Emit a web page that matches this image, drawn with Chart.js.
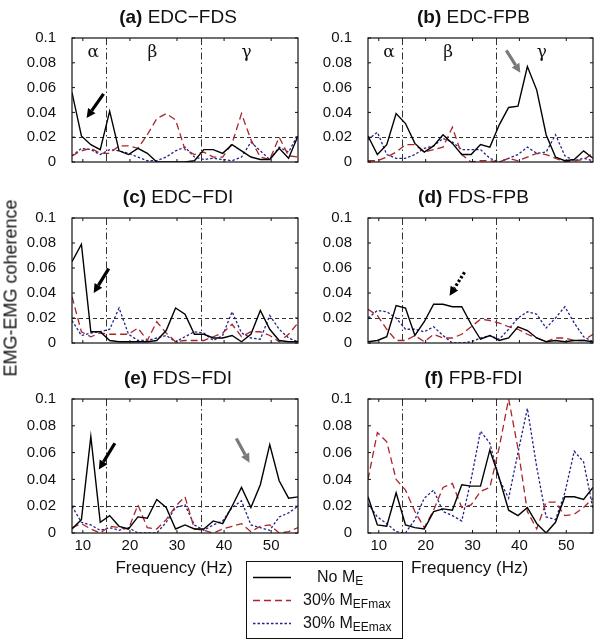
<!DOCTYPE html>
<html>
<head>
<meta charset="utf-8">
<script src="https://cdn.jsdelivr.net/npm/chart.js@4/dist/chart.umd.min.js"></script>
<style>
  body { margin: 0; background: #fff; font-family: "Liberation Sans", Arial, sans-serif; }
  #wrap { position: relative; width: 601px; height: 643px; overflow: hidden; }
  canvas { position: absolute; }
  .ttl { position: absolute; font-size: 19px; white-space: nowrap; transform: translate(-50%, -50%); color: #111; }
  .ttl b { font-weight: bold; }
  .xlab { position: absolute; font-size: 17px; transform: translate(-50%, -50%); white-space: nowrap; color: #111; }
  .ylab { position: absolute; font-size: 18px; white-space: nowrap; color: #111;
          transform: translate(-50%, -50%) rotate(-90deg); }
  #legend { position: absolute; left: 246px; top: 561px; width: 157px; height: 78px;
            border: 1px solid #111; box-sizing: border-box; font-size: 16px; color: #111; }
  #legend .row { position: absolute; left: 0; height: 20px; line-height: 20px; }
  #legend svg { position: absolute; left: 6px; top: 9px; }
  #legend span.t { position: absolute; white-space: nowrap; }
  #legend sub { font-size: 12px; vertical-align: -3px; }
</style>
</head>
<body>
<div id="wrap"></div>
<script>
// frequency bins (Hz)
const freqs = [7.7, 9.7, 11.7, 13.7, 15.7, 17.7, 19.7, 21.7, 23.7, 25.7, 27.7, 29.7, 31.7, 33.7, 35.7, 37.7, 39.7, 41.7, 43.7, 45.7, 47.7, 49.7, 51.7, 53.7, 55.7];
const yTicks = [0, 0.02, 0.04, 0.06, 0.08, 0.1];
const xTicks = [10, 20, 30, 40, 50];
const bandEdges = [15, 35];
const threshold = 0.02;

// (a) EDC-FDS
const edcFdsNo = [0.056, 0.021, 0.014, 0.010, 0.041, 0.009, 0.006, 0.011, 0.007, 0.000, 0.000, 0.000, 0.000, 0.001, 0.010, 0.010, 0.007, 0.014, 0.009, 0.004, 0.002, 0.002, 0.011, 0.003, 0.021];
const edcFdsEF = [0.005, 0.009, 0.011, 0.007, 0.007, 0.013, 0.013, 0.011, 0.022, 0.035, 0.039, 0.034, 0.010, 0.006, 0.008, 0.004, 0.004, 0.015, 0.039, 0.018, 0.004, 0.002, 0.020, 0.005, 0.004];
const edcFdsEE = [0.005, 0.011, 0.010, 0.006, 0.010, 0.009, 0.007, 0.004, 0.001, 0.001, 0.004, 0.009, 0.012, 0.004, 0.002, 0.003, 0.002, 0.001, 0.004, 0.016, 0.009, 0.002, 0.012, 0.008, 0.022];
// (b) EDC-FPB
const edcFpbNo = [0.021, 0.006, 0.014, 0.039, 0.031, 0.015, 0.008, 0.013, 0.022, 0.015, 0.006, 0.006, 0.014, 0.012, 0.030, 0.044, 0.045, 0.077, 0.058, 0.022, 0.004, 0.001, 0.002, 0.009, 0.003];
const edcFpbEF = [0.001, 0.001, 0.004, 0.008, 0.014, 0.014, 0.008, 0.010, 0.012, 0.028, 0.006, 0.000, 0.001, 0.001, 0.000, 0.003, 0.001, 0.004, 0.007, 0.006, 0.003, 0.000, 0.001, 0.002, 0.007];
const edcFpbEE = [0.018, 0.024, 0.006, 0.003, 0.003, 0.006, 0.011, 0.013, 0.019, 0.016, 0.010, 0.010, 0.010, 0.003, 0.000, 0.003, 0.006, 0.012, 0.007, 0.008, 0.022, 0.005, 0.001, 0.003, 0.001];
// (c) EDC-FDI
const edcFdiNo = [0.065, 0.079, 0.009, 0.009, 0.002, 0.001, 0.001, 0.001, 0.001, 0.002, 0.010, 0.028, 0.023, 0.007, 0.007, 0.004, 0.004, 0.006, 0.001, 0.007, 0.026, 0.011, 0.002, 0.001, 0.001];
const edcFdiEF = [0.037, 0.009, 0.005, 0.008, 0.007, 0.007, 0.007, 0.012, 0.002, 0.017, 0.008, 0.001, 0.002, 0.002, 0.002, 0.005, 0.008, 0.015, 0.005, 0.009, 0.009, 0.006, 0.001, 0.007, 0.016];
const edcFdiEE = [0.018, 0.006, 0.008, 0.009, 0.011, 0.028, 0.007, 0.002, 0.002, 0.004, 0.006, 0.001, 0.005, 0.009, 0.008, 0.002, 0.006, 0.025, 0.008, 0.004, 0.003, 0.022, 0.011, 0.004, 0.001];
// (d) FDS-FPB
const fdsFpbNo = [0.001, 0.002, 0.005, 0.030, 0.028, 0.006, 0.017, 0.031, 0.031, 0.029, 0.029, 0.015, 0.003, 0.006, 0.002, 0.004, 0.013, 0.010, 0.004, 0.001, 0.002, 0.001, 0.002, 0.002, 0.001];
const fdsFpbEF = [0.027, 0.022, 0.011, 0.002, 0.002, 0.006, 0.001, 0.007, 0.004, 0.004, 0.007, 0.013, 0.019, 0.018, 0.016, 0.013, 0.011, 0.007, 0.004, 0.001, 0.004, 0.004, 0.002, 0.002, 0.007];
const fdsFpbEE = [0.020, 0.026, 0.025, 0.020, 0.011, 0.011, 0.009, 0.013, 0.006, 0.000, 0.000, 0.001, 0.004, 0.006, 0.003, 0.011, 0.020, 0.025, 0.023, 0.012, 0.020, 0.029, 0.016, 0.005, 0.001];
// (e) FDS-FDI
const fdsFdiNo = [0.003, 0.010, 0.072, 0.008, 0.013, 0.005, 0.003, 0.012, 0.011, 0.025, 0.019, 0.003, 0.006, 0.003, 0.003, 0.009, 0.007, 0.020, 0.034, 0.019, 0.036, 0.066, 0.039, 0.026, 0.027];
const fdsFdiEF = [0.004, 0.007, 0.003, 0.000, 0.005, 0.004, 0.003, 0.021, 0.004, 0.003, 0.010, 0.020, 0.027, 0.003, 0.002, 0.000, 0.003, 0.005, 0.007, 0.001, 0.005, 0.006, 0.000, 0.001, 0.004];
const fdsFdiEE = [0.020, 0.008, 0.006, 0.002, 0.004, 0.002, 0.004, 0.000, 0.000, 0.000, 0.008, 0.019, 0.021, 0.006, 0.002, 0.006, 0.009, 0.019, 0.024, 0.006, 0.004, 0.002, 0.012, 0.015, 0.020];
// (f) FPB-FDI
const fpbFdiNo = [0.027, 0.006, 0.005, 0.030, 0.006, 0.004, 0.003, 0.016, 0.018, 0.017, 0.036, 0.035, 0.035, 0.062, 0.041, 0.017, 0.013, 0.019, 0.007, 0.000, 0.008, 0.027, 0.027, 0.025, 0.034];
const fpbFdiEF = [0.040, 0.075, 0.068, 0.040, 0.032, 0.016, 0.004, 0.017, 0.034, 0.037, 0.019, 0.021, 0.031, 0.034, 0.064, 0.100, 0.063, 0.016, 0.003, 0.023, 0.023, 0.013, 0.014, 0.019, 0.026];
const fpbFdiEE = [0.022, 0.012, 0.007, 0.001, 0.000, 0.010, 0.026, 0.032, 0.016, 0.013, 0.009, 0.040, 0.076, 0.067, 0.040, 0.026, 0.060, 0.093, 0.049, 0.012, 0.010, 0.030, 0.061, 0.053, 0.018];

const RED = '#a8262c';
const BLUE = '#23238a';
const GRAY = '#7a7a7a';

const panels = [
  { tag: '(a)', name: 'EDC−FDS', series: [edcFdsNo, edcFdsEF, edcFdsEE], left: 72, top: 33, w: 226, h: 138, greek: true,
    arrows: [{ from: [14.4, 0.055], to: [10.8, 0.0355], color: '#000' }] },
  { tag: '(b)', name: 'EDC-FPB', series: [edcFpbNo, edcFpbEF, edcFpbEE], left: 368, top: 33, w: 225, h: 138, greek: true,
    arrows: [{ from: [37.2, 0.090], to: [40.2, 0.072], color: GRAY }] },
  { tag: '(c)', name: 'EDC−FDI', series: [edcFdiNo, edcFdiEF, edcFdiEE], left: 72, top: 213, w: 226, h: 139,
    arrows: [{ from: [15.5, 0.0595], to: [12.3, 0.040], color: '#000' }] },
  { tag: '(d)', name: 'FDS-FPB', series: [fdsFpbNo, fdsFpbEF, fdsFpbEE], left: 368, top: 213, w: 225, h: 139,
    arrows: [{ from: [28.3, 0.0566], to: [25.1, 0.0378], color: '#000', dotted: true }] },
  { tag: '(e)', name: 'FDS−FDI', series: [fdsFdiNo, fdsFdiEF, fdsFdiEE], left: 72, top: 394, w: 226, h: 139, bottom: true,
    arrows: [{ from: [16.8, 0.067], to: [13.4, 0.0473], color: '#000' },
             { from: [42.6, 0.0705], to: [45.4, 0.0525], color: GRAY }] },
  { tag: '(f)', name: 'FPB-FDI', series: [fpbFdiNo, fpbFdiEF, fpbFdiEE], left: 368, top: 394, w: 225, h: 139, bottom: true,
    arrows: [] },
];

const greekLabels = [['α', 12.2], ['β', 24.8], ['γ', 44.8]];

const decor = {
  id: 'decor',
  beforeDatasetsDraw(chart, args, opts) {
    const { ctx, chartArea: ca, scales: { x, y } } = chart;
    ctx.save();
    ctx.lineWidth = 1;
    ctx.strokeStyle = '#333';
    ctx.setLineDash([4, 3]);
    const yt = Math.round(y.getPixelForValue(threshold)) + 0.5;
    ctx.beginPath(); ctx.moveTo(ca.left, yt); ctx.lineTo(ca.right, yt); ctx.stroke();
    ctx.setLineDash([7, 3, 1.5, 3]);
    bandEdges.forEach(f => {
      const px = Math.round(x.getPixelForValue(f)) + 0.5;
      ctx.beginPath(); ctx.moveTo(px, ca.top); ctx.lineTo(px, ca.bottom); ctx.stroke();
    });
    ctx.restore();
  },
  afterDraw(chart, args, opts) {
    const { ctx, chartArea: ca, scales: { x, y } } = chart;
    ctx.save();
    // box + inward ticks
    ctx.strokeStyle = '#111';
    ctx.lineWidth = 1.2;
    ctx.strokeRect(ca.left, ca.top, ca.right - ca.left, ca.bottom - ca.top);
    ctx.lineWidth = 1;
    ctx.beginPath();
    xTicks.forEach(v => {
      const px = x.getPixelForValue(v);
      ctx.moveTo(px, ca.bottom); ctx.lineTo(px, ca.bottom - 3);
      ctx.moveTo(px, ca.top); ctx.lineTo(px, ca.top + 3);
    });
    yTicks.forEach(v => {
      const py = y.getPixelForValue(v);
      ctx.moveTo(ca.left, py); ctx.lineTo(ca.left + 3, py);
      ctx.moveTo(ca.right, py); ctx.lineTo(ca.right - 3, py);
    });
    ctx.stroke();
    // greek band labels
    if (opts.greek) {
      ctx.fillStyle = '#111';
      ctx.font = '17px "DejaVu Serif", serif';
      ctx.textAlign = 'center';
      ctx.textBaseline = 'middle';
      greekLabels.forEach(([t, f]) => ctx.fillText(t, x.getPixelForValue(f), y.getPixelForValue(0.088)));
    }
    // arrows
    (opts.arrows || []).forEach(a => {
      const x0 = x.getPixelForValue(a.from[0]), y0 = y.getPixelForValue(a.from[1]);
      const x1 = x.getPixelForValue(a.to[0]), y1 = y.getPixelForValue(a.to[1]);
      const ang = Math.atan2(y1 - y0, x1 - x0);
      const hl = 9, hw = 4.5;
      const bx = x1 - hl * Math.cos(ang), by = y1 - hl * Math.sin(ang);
      ctx.strokeStyle = a.color; ctx.fillStyle = a.color;
      ctx.lineWidth = 3.2;
      ctx.setLineDash(a.dotted ? [2.5, 2] : []);
      ctx.beginPath(); ctx.moveTo(x0, y0); ctx.lineTo(bx, by); ctx.stroke();
      ctx.setLineDash([]);
      ctx.beginPath();
      ctx.moveTo(x1, y1);
      ctx.lineTo(bx + hw * Math.sin(ang), by - hw * Math.cos(ang));
      ctx.lineTo(bx - hw * Math.sin(ang), by + hw * Math.cos(ang));
      ctx.closePath(); ctx.fill();
    });
    ctx.restore();
  }
};

const wrap = document.getElementById('wrap');
const styles = [
  { color: '#000', dash: [] },
  { color: RED, dash: [7, 4] },
  { color: BLUE, dash: [2.5, 2] },
];

panels.forEach(p => {
  const padL = 64, padT = 12, padR = 8, padB = p.bottom ? 30 : 8;
  const c = document.createElement('canvas');
  c.width = p.w + padL + padR;
  c.height = p.h + padT + padB;
  c.style.left = (p.left - padL) + 'px';
  c.style.top = (p.top - padT) + 'px';
  wrap.appendChild(c);

  const t = document.createElement('div');
  t.className = 'ttl';
  t.innerHTML = '<b>' + p.tag + '</b> ' + p.name;
  t.style.left = (p.left + p.w / 2 - 7) + 'px';
  t.style.top = (p.top - 16) + 'px';
  wrap.appendChild(t);

  if (p.bottom) {
    const xl = document.createElement('div');
    xl.className = 'xlab';
    xl.textContent = 'Frequency (Hz)';
    xl.style.left = (p.left + p.w / 2 - 11) + 'px';
    xl.style.top = '568px';
    wrap.appendChild(xl);
  }

  new Chart(c, {
    type: 'line',
    data: {
      datasets: p.series.map((vals, i) => ({
        data: freqs.map((f, k) => ({ x: f, y: vals[k] })),
        borderColor: styles[i].color,
        borderDash: styles[i].dash,
        borderWidth: i === 0 ? 1.4 : 1.3,
        pointRadius: 0,
        tension: 0,
        fill: false,
      })),
    },
    options: {
      responsive: false,
      animation: false,
      devicePixelRatio: 1,
      layout: { padding: { left: 0, top: padT, right: padR, bottom: p.bottom ? 0 : padB } },
      plugins: {
        legend: { display: false },
        tooltip: { enabled: false },
        decor: { arrows: p.arrows, greek: p.greek },
      },
      scales: {
        x: {
          type: 'linear', min: 7.7, max: 55.7,
          grid: { display: false, drawTicks: false },
          border: { display: false },
          afterBuildTicks: s => { s.ticks = xTicks.map(v => ({ value: v })); },
          afterFit: s => { s.height = p.bottom ? padB : 0; },
          ticks: { display: !!p.bottom, color: '#111', font: { size: 15, family: '"Liberation Sans", Arial' }, padding: 4, maxRotation: 0 },
        },
        y: {
          min: 0, max: 0.1,
          grid: { display: false },
          border: { display: false },
          afterBuildTicks: s => { s.ticks = yTicks.map(v => ({ value: v })); },
          afterFit: s => { s.width = padL; },
          ticks: { color: '#111', font: { size: 15, family: '"Liberation Sans", Arial' }, padding: 8,
                   callback: v => String(+v.toFixed(2)) },
        },
      },
    },
    plugins: [decor],
  });
});

// shared y label
const yl = document.createElement('div');
yl.className = 'ylab';
yl.textContent = 'EMG-EMG coherence';
yl.style.left = '11px';
yl.style.top = '288px';
wrap.appendChild(yl);

// legend
const legendItems = [
  { html: 'No M<sub>E</sub>', color: '#000', dash: '', left: 70 },
  { html: '30% M<sub>EFmax</sub>', color: RED, dash: '7,4', left: 56 },
  { html: '30% M<sub>EEmax</sub>', color: BLUE, dash: '2.5,2', left: 56 },
];
const lg = document.createElement('div');
lg.id = 'legend';
legendItems.forEach((it, i) => {
  const row = document.createElement('div');
  row.className = 'row';
  row.style.top = (5 + i * 23) + 'px';
  row.style.width = '155px';
  row.innerHTML = '<svg width="40" height="3"><line x1="0" y1="1.5" x2="38" y2="1.5" stroke="' + it.color +
    '" stroke-width="1.4"' + (it.dash ? ' stroke-dasharray="' + it.dash + '"' : '') + '/></svg>' +
    '<span class="t" style="left:' + it.left + 'px">' + it.html + '</span>';
  lg.appendChild(row);
});
wrap.appendChild(lg);
</script>
</body>
</html>
